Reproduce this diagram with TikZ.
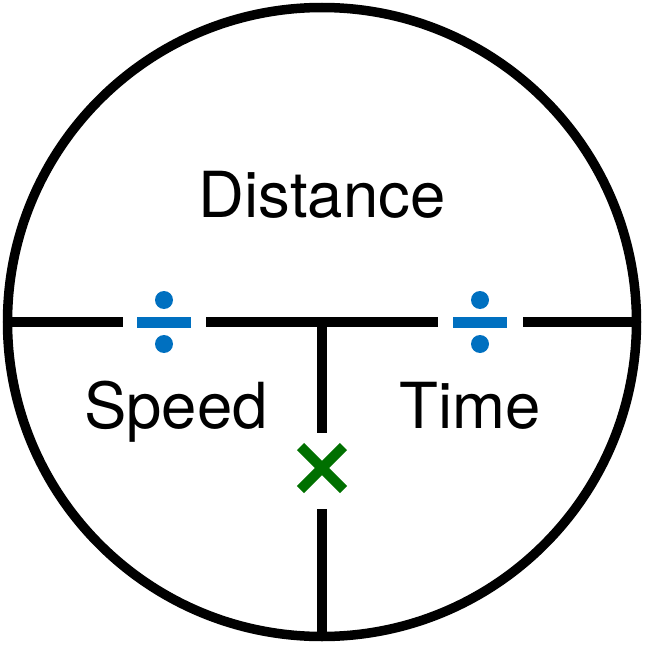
\documentclass[tikz,border=0pt]{standalone}
\usepackage{fontspec}
\setmainfont{TeX Gyre Heros}
\usetikzlibrary{calc}
\definecolor{divblue}{RGB}{0,112,192}
\definecolor{crossgreen}{RGB}{0,112,0}
\begin{document}
\begin{tikzpicture}[x=1pt,y=-1pt,
  rim/.style={line width=9.5pt,black},
  part/.style={line width=9.5pt,black,line cap=butt},
  lbl/.style={anchor=base,inner sep=0pt,font=\fontsize{63.5}{72}\selectfont},
  crossarm/.style={line width=10pt,crossgreen,line cap=butt}]
\useasboundingbox (0,0) rectangle (649,645);
% outer circle
\draw[rim] (322,322) circle (314.5);
% named points
\coordinate (hl) at (8,322);
\coordinate (hr) at (636,322);
\coordinate (g1l) at (123,322);
\coordinate (g1r) at (206,322);
\coordinate (g2l) at (438,322);
\coordinate (g2r) at (523,322);
\coordinate (vt) at (322,322);
\coordinate (vg1) at (322,433);
\coordinate (vg2) at (322,509);
\coordinate (vb) at (322,637);
\draw[part] (hl) -- (g1l);
\draw[part] (g1r) -- (g2l);
\draw[part] (g2r) -- (hr);
\draw[part] (vt) -- (vg1);
\draw[part] (vg2) -- (vb);
% division signs
\foreach \cx in {164,480}{
  \fill[divblue] (\cx-27,317) rectangle (\cx+27,328);
  \fill[divblue] (\cx,300) circle (9);
  \fill[divblue] (\cx,344) circle (9);
}
% multiplication sign
\coordinate (xc) at (322,468);
\draw[crossarm] ($(xc)+(-21.5,-21.5)$) -- ($(xc)+(21.5,21.5)$);
\draw[crossarm] ($(xc)+(-21.5,21.5)$) -- ($(xc)+(21.5,-21.5)$);
% labels
\node[lbl] (dist) at (322,217) {Distance};
\node[lbl] (speed) at (176,428) {Speed};
\node[lbl] (time) at (470,428) {Time};
\end{tikzpicture}
\end{document}
